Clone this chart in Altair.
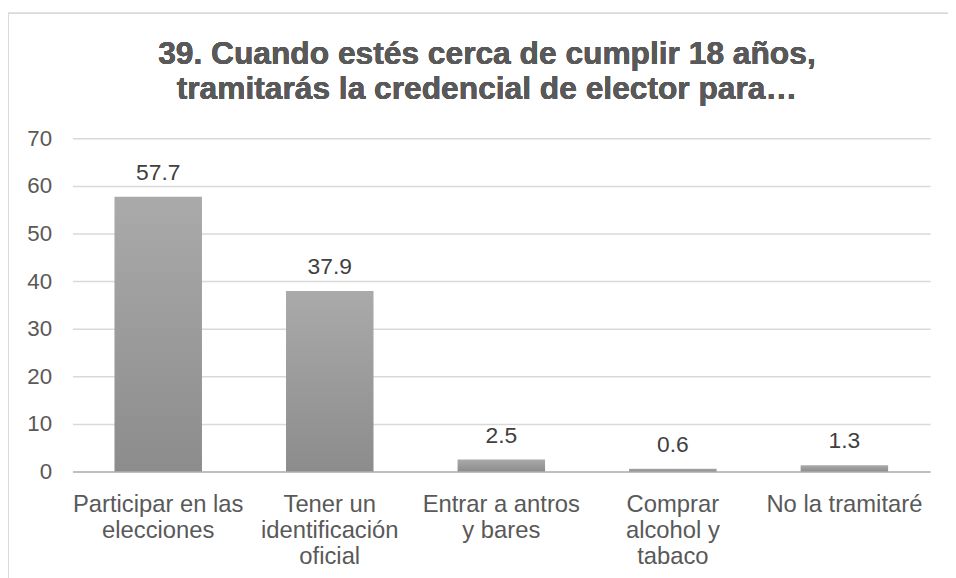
import altair as alt
import pandas as pd

categories = [
    "Participar en las|elecciones",
    "Tener un|identificación|oficial",
    "Entrar a antros|y bares",
    "Comprar|alcohol y|tabaco",
    "No la tramitaré",
]
values = [57.7, 37.9, 2.5, 0.6, 1.3]
labels = ["57.7", "37.9", "2.5", "0.6", "1.3"]
title_line1 = "39. Cuando estés cerca de cumplir 18 años,"
title_line2 = "tramitarás la credencial de elector para…"

df = pd.DataFrame({"cat": categories, "val": values, "lab": labels})

FONT = "Liberation Sans"

x = alt.X(
    "cat:N",
    sort=None,
    title=None,
    scale=alt.Scale(paddingInner=0.49, paddingOuter=0.245),
    axis=alt.Axis(
        labelExpr="split(datum.label, '|')",
        labelAngle=0,
        labelFont=FONT,
        labelFontSize=24,
        labelColor="#595959",
        labelLineHeight=26.5,
        labelPadding=21,
        labelLimit=300,
        ticks=False,
        domainColor="#bfbfbf",
        domainWidth=2,
        grid=False,
    ),
)
y = alt.Y(
    "val:Q",
    title=None,
    scale=alt.Scale(domain=[0, 70]),
    axis=alt.Axis(
        values=[0, 10, 20, 30, 40, 50, 60, 70],
        labelFont=FONT,
        labelFontSize=22.5,
        labelColor="#595959",
        labelPadding=21,
        ticks=False,
        domain=False,
        gridColor="#d9d9d9",
        gridWidth=1.5,
    ),
)

bars = alt.Chart(df).mark_bar(
    color=alt.Gradient(
        gradient="linear",
        stops=[
            alt.GradientStop(color="#aaaaaa", offset=0),
            alt.GradientStop(color="#8c8c8c", offset=1),
        ],
        x1=0, x2=0, y1=0, y2=1,
    )
).encode(x=x, y=y)

text = alt.Chart(df).mark_text(
    font=FONT, fontSize=23, color="#404040", baseline="alphabetic", dy=-17
).encode(x=alt.X("cat:N", sort=None), y="val:Q", text="lab:N")

title1 = alt.Chart(df).mark_text(
    font=FONT, fontSize=32, fontWeight="bold", color="#595959",
    baseline="alphabetic", align="center",
).encode(x=alt.value(418), y=alt.value(-75), text=alt.value(title_line1))
title2 = alt.Chart(df).mark_text(
    font=FONT, fontSize=32, fontWeight="bold", color="#595959",
    baseline="alphabetic", align="center",
).encode(x=alt.value(418), y=alt.value(-40), text=alt.value(title_line2))

border_v = alt.Chart(df).mark_rule(color="#d9d9d9", strokeWidth=1.5).encode(
    x=alt.value(-65), y=alt.value(-126), y2=alt.value(450)
)
border_h = alt.Chart(df).mark_rule(color="#d9d9d9", strokeWidth=1.5).encode(
    x=alt.value(-65), x2=alt.value(900), y=alt.value(-126)
)

chart = (
    alt.layer(border_v, border_h, bars, text, title1, title2)
    .properties(
        width=865,
        height=336,
        autosize=alt.AutoSizeParams(type="none"),
        padding={"left": 65, "top": 129, "right": 18, "bottom": 105},
    )
    .configure_view(stroke=None)
)

chart.save("out.html", embed_options={"renderer": "svg", "actions": False})
